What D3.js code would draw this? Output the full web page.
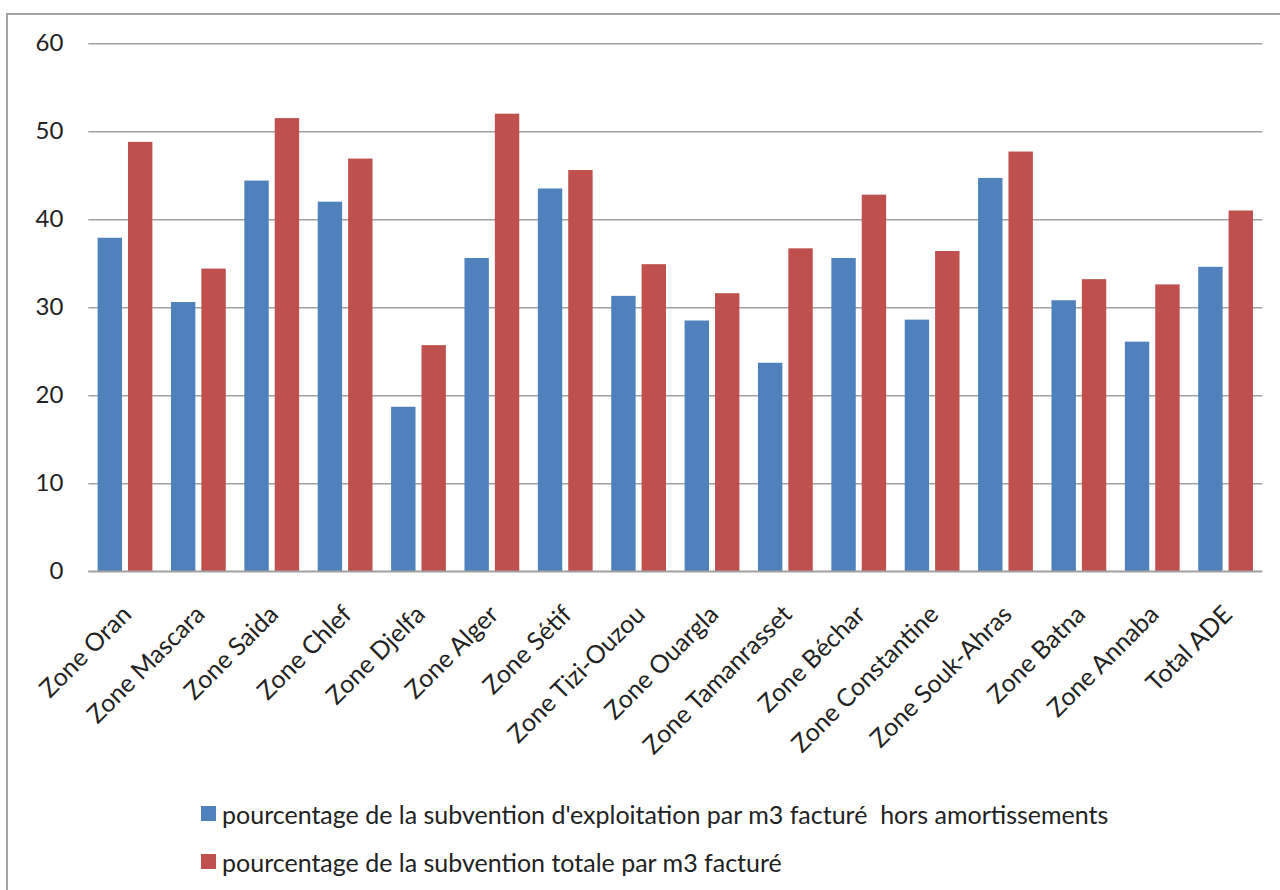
<!DOCTYPE html>
<html>
<head>
<meta charset="utf-8">
<script src="https://cdn.jsdelivr.net/npm/d3@7"></script>
<style>
  html, body { margin: 0; padding: 0; background: #fff; }
  svg { display: block; font-family: Lato, "Noto Sans", sans-serif; }
</style>
</head>
<body>
<svg id="chart" width="1280" height="890"></svg>
<script>
// Zones of the ADE and their subsidy percentages per billed m3
const categories = [
  "Zone Oran", "Zone Mascara", "Zone Saida", "Zone Chlef", "Zone Djelfa",
  "Zone Alger", "Zone Sétif", "Zone Tizi-Ouzou", "Zone Ouargla", "Zone Tamanrasset",
  "Zone Béchar", "Zone Constantine", "Zone Souk-Ahras", "Zone Batna", "Zone Annaba",
  "Total ADE"
];
const exploitation = [37.9, 30.6, 44.4, 42.0, 18.7, 35.6, 43.5, 31.3, 28.5, 23.7, 35.6, 28.6, 44.7, 30.8, 26.1, 34.6];
const totale       = [48.8, 34.4, 51.5, 46.9, 25.7, 52.0, 45.6, 34.9, 31.6, 36.7, 42.8, 36.4, 47.7, 33.2, 32.6, 41.0];
const seriesNames = [
  "pourcentage de la subvention d'exploitation par m3 facturé  hors amortissements",
  "pourcentage de la subvention totale par m3 facturé"
];
const seriesValues = [exploitation, totale];
const seriesColors = ["#4F81BD", "#C0504D"];
const yTicks = [0, 10, 20, 30, 40, 50, 60];

const svg = d3.select("#chart");
const plot = { left: 88.3, right: 1262.3, top: 43.3, bottom: 571.3 };

// Outer chart frame (top and left edges visible)
svg.append("rect")
  .attr("x", 7).attr("y", 14)
  .attr("width", 1300).attr("height", 900)
  .attr("fill", "none")
  .attr("stroke", "#a3a3a3")
  .attr("stroke-width", 2);

const y = d3.scaleLinear().domain([0, 60]).range([plot.bottom, plot.top]);
const x0 = d3.scaleBand().domain(categories).range([plot.left, plot.right]).padding(0);
const x1 = d3.scaleBand().domain([0, 1]).range([0, x0.bandwidth()])
  .paddingInner(0.197).paddingOuter(0.306);

// Horizontal gridlines and value labels
const yAxis = d3.axisLeft(y).tickValues(yTicks).tickSize(-(plot.right - plot.left)).tickPadding(25);
const gy = svg.append("g")
  .attr("transform", `translate(${plot.left},0)`)
  .call(yAxis);
gy.select(".domain").remove();
gy.selectAll(".tick line").attr("stroke", "#a0a0a0").attr("stroke-width", 1.6);
gy.selectAll(".tick text")
  .attr("fill", "#222")
  .style("font-size", "24px")
  .attr("font-family", "Lato, 'Noto Sans', sans-serif");

// Bars
const groups = svg.append("g").selectAll("g")
  .data(categories)
  .join("g")
  .attr("transform", d => `translate(${x0(d)},0)`);

groups.selectAll("rect")
  .data((d, i) => seriesValues.map((vals, s) => ({ s, v: vals[i] })))
  .join("rect")
  .attr("x", d => x1(d.s))
  .attr("width", x1.bandwidth())
  .attr("y", d => y(d.v))
  .attr("height", d => y(0) - y(d.v))
  .attr("fill", d => seriesColors[d.s]);

// Category axis line
svg.append("line")
  .attr("x1", plot.left).attr("x2", plot.right)
  .attr("y1", y(0)).attr("y2", y(0))
  .attr("stroke", "#a0a0a0").attr("stroke-width", 1.6);

// Rotated category labels
svg.append("g").selectAll("text")
  .data(categories)
  .join("text")
  .attr("transform", d => `translate(${x0(d) + x0.bandwidth() / 2 + 8},616) rotate(-45)`)
  .attr("text-anchor", "end")
  .attr("fill", "#222")
  .style("font-size", "25px")
  .text(d => d);

// Legend
const legend = svg.append("g").selectAll("g")
  .data(seriesNames)
  .join("g")
  .attr("transform", (d, i) => `translate(201,${806 + i * 48})`);
legend.append("rect")
  .attr("width", 15).attr("height", 15)
  .attr("fill", (d, i) => seriesColors[i]);
legend.append("text")
  .attr("x", 21).attr("y", 7.5)
  .attr("dominant-baseline", "central")
  .attr("fill", "#222")
  .style("font-size", "25px")
  .style("white-space", "pre")
  .attr("xml:space", "preserve")
  .text(d => d);
</script>
</body>
</html>
